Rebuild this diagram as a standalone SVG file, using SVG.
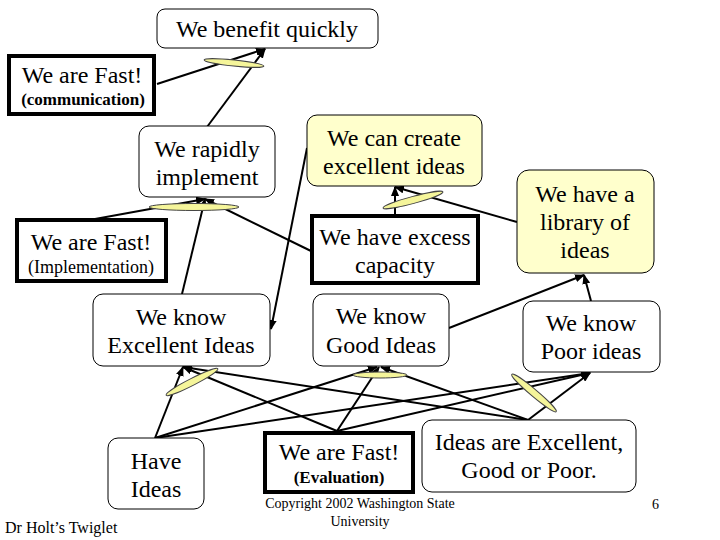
<svg xmlns="http://www.w3.org/2000/svg" width="720" height="540" viewBox="0 0 720 540">
<style>
.t{font-family:"Liberation Serif","Times New Roman",serif;font-size:24px;fill:#000;text-anchor:middle}
.s{font-family:"Liberation Serif","Times New Roman",serif;font-size:17px;fill:#000;text-anchor:middle}
.b{font-weight:bold}
.f{font-family:"Liberation Serif","Times New Roman",serif;font-size:14px;fill:#000}
.r{fill:#fff;stroke:#000;stroke-width:1}
.y{fill:#ffffcc;stroke:#000;stroke-width:1}
.k{fill:#fff;stroke:#000;stroke-width:4}
.c line{stroke:#000;stroke-width:2;marker-end:url(#a)}
.e{fill:#f5f59a;stroke:#444;stroke-width:1}
</style>
<defs>
<marker id="a" markerUnits="userSpaceOnUse" markerWidth="10" markerHeight="8" refX="9" refY="4" orient="auto">
<path d="M0,0 L10,4 L0,8 Z" fill="#000"/>
</marker>
</defs>
<rect width="720" height="540" fill="#fff"/>
<g class="c" id="connectors">
<line x1="157" y1="84" x2="265" y2="49"/>
<line x1="207" y1="127" x2="265" y2="49"/>
<line x1="95" y1="219" x2="205" y2="199"/>
<line x1="311" y1="251" x2="205" y2="199"/>
<line x1="182" y1="294" x2="205" y2="199"/>
<line x1="307" y1="148" x2="271" y2="329"/>
<line x1="395" y1="215" x2="395" y2="187"/>
<line x1="517" y1="222" x2="395" y2="187"/>
<line x1="591" y1="301" x2="584" y2="275"/>
<line x1="449" y1="328" x2="584" y2="275"/>
<line x1="155" y1="438" x2="183" y2="367"/>
<line x1="155" y1="438" x2="377" y2="367"/>
<line x1="155" y1="438" x2="590" y2="373"/>
<line x1="337" y1="431" x2="183" y2="367"/>
<line x1="337" y1="431" x2="379" y2="367"/>
<line x1="337" y1="431" x2="590" y2="373"/>
<line x1="528" y1="420" x2="183" y2="367"/>
<line x1="528" y1="420" x2="381" y2="367"/>
<line x1="528" y1="420" x2="590" y2="373"/>
<ellipse class="e" cx="234" cy="63" rx="30" ry="3" transform="rotate(6 234 63)"/>
<ellipse class="e" cx="194" cy="207" rx="45" ry="3.5"/>
<ellipse class="e" cx="413" cy="200" rx="31" ry="3.5" transform="rotate(-15 413 200)"/>
<ellipse class="e" cx="192" cy="382" rx="29" ry="3.5" transform="rotate(-27 192 382)"/>
<ellipse class="e" cx="380" cy="375" rx="27" ry="3"/>
<ellipse class="e" cx="534" cy="393" rx="29" ry="3.5" transform="rotate(40 534 393)"/>
</g>
<g id="benefit"><rect class="r" x="157" y="9" width="221" height="39" rx="8"/><text class="t" x="267" y="37">We benefit quickly</text></g>
<g id="fast-comm"><rect class="k" x="9" y="56" width="145" height="58"/><text class="t" x="82" y="83">We are Fast!</text><text class="s b" x="83" y="105">(communication)</text></g>
<g id="rapidly"><rect class="r" x="139" y="126" width="136" height="71" rx="10"/><text class="t" x="207" y="157">We rapidly</text><text class="t" x="207" y="185">implement</text></g>
<g id="create"><rect class="y" x="307" y="115" width="175" height="71" rx="10"/><text class="t" x="394" y="146">We can create</text><text class="t" x="394" y="174">excellent ideas</text></g>
<g id="excess"><rect class="k" x="312" y="216" width="166" height="67"/><text class="t" x="395" y="245">We have excess</text><text class="t" x="395" y="273">capacity</text></g>
<g id="library"><rect class="y" x="517" y="170" width="137" height="103" rx="12"/><text class="t" x="585" y="202">We have a</text><text class="t" x="585" y="230">library of</text><text class="t" x="585" y="258">ideas</text></g>
<g id="fast-impl"><rect class="k" x="17" y="220" width="149" height="61"/><text class="t" x="91" y="250">We are Fast!</text><text class="s" x="91" y="273" style="font-size:18px">(Implementation)</text></g>
<g id="know-excellent"><rect class="r" x="93" y="294" width="177" height="72" rx="10"/><text class="t" x="181" y="325">We know</text><text class="t" x="181" y="353">Excellent Ideas</text></g>
<g id="know-good"><rect class="r" x="313" y="294" width="136" height="72" rx="10"/><text class="t" x="381" y="324">We know</text><text class="t" x="381" y="353">Good Ideas</text></g>
<g id="know-poor"><rect class="r" x="523" y="301" width="137" height="71" rx="10"/><text class="t" x="591" y="331">We know</text><text class="t" x="591" y="359">Poor ideas</text></g>
<g id="have-ideas"><rect class="r" x="108" y="438" width="96" height="71" rx="10"/><text class="t" x="156" y="469">Have</text><text class="t" x="156" y="497">Ideas</text></g>
<g id="fast-eval"><rect class="k" x="265" y="433" width="148" height="59"/><text class="t" x="339" y="460">We are Fast!</text><text class="s b" x="339" y="483">(Evaluation)</text></g>
<g id="ideas-are"><rect class="r" x="422" y="420" width="214" height="72" rx="10"/><text class="t" x="529" y="450">Ideas are Excellent,</text><text class="t" x="529" y="478">Good or Poor.</text></g>
<g id="footer">
<text class="f" x="5" y="533" style="font-size:16px">Dr Holt’s Twiglet</text>
<text class="f" x="360" y="508" text-anchor="middle">Copyright 2002 Washington State</text>
<text class="f" x="360" y="526" text-anchor="middle">University</text>
<text class="f" x="652" y="509">6</text>
</g>
</svg>
